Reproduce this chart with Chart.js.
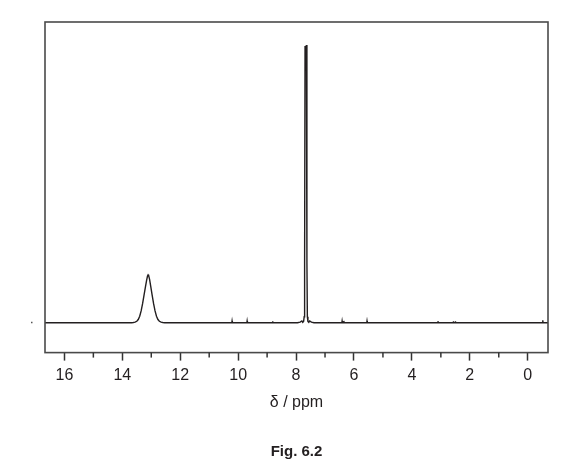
<!DOCTYPE html>
<html>
<head>
<meta charset="utf-8">
<script src="https://cdn.jsdelivr.net/npm/chart.js@4.4.0/dist/chart.umd.min.js"></script>
<style>
    html, body { margin: 0; padding: 0; background: #fff; }
    #wrap { width: 587px; height: 467px; }
</style>
</head>
<body>
<div id="wrap"><canvas id="nmr"></canvas></div>
<script>
// spectrum trace (ppm, relative intensity)
const ppm = [
    16.67,
    13.68, 13.62, 13.56, 13.50, 13.45, 13.40, 13.35, 13.30, 13.25, 13.20, 13.16, 13.13,
    13.11,
    13.09, 13.06, 13.02, 12.97, 12.92, 12.87, 12.82, 12.77, 12.72, 12.66, 12.60, 12.54,
    10.22, 10.21, 10.20,
    9.70, 9.69, 9.68,
    8.82, 8.81, 8.80,
    7.95, 7.86, 7.80, 7.77, 7.74, 7.72, 7.705, 7.69, 7.67, 7.645, 7.625, 7.61, 7.59, 7.56, 7.53, 7.47, 7.38,
    6.42, 6.41, 6.40, 6.36, 6.35, 6.34,
    5.56, 5.55, 5.54,
    3.11, 3.10, 3.09,
    2.58, 2.57, 2.56, 2.51, 2.50, 2.49,
    -0.51, -0.52, -0.53,
    -0.70
];
const intensity = [
    0,
    0, 0.2, 0.6, 1.5, 3.2, 6.5, 11.8, 19.0, 27.5, 36.0, 42.5, 46.5,
    47.7,
    46.8, 43.5, 36.5, 27.5, 19.0, 11.8, 6.5, 3.2, 1.5, 0.6, 0.2, 0,
    0, 1.8, 0,
    0, 1.8, 0,
    0, 1.5, 0,
    0, 0.6, 1.8, 0.3, 1.2, 6, 60, 275.5, 266, 276.3, 60, 6, 1.2, 0.3, 1.8, 0.6, 0,
    0, 1.8, 0, 0, 1.8, 0,
    0, 1.8, 0,
    0, 1.5, 0,
    0, 1.5, 0, 0, 1.5, 0,
    0, 2.5, 0,
    0
];
const majorTicks = [16, 14, 12, 10, 8, 6, 4, 2, 0];
const minorTicks = [15, 13, 11, 9, 7, 5, 3, 1];

const INK = '#231f20';

// frame + short minor ticks + the stray dot left of the frame
const framePlugin = {
    id: 'frame',
    afterDraw(chart) {
        const { ctx, chartArea: a, scales } = chart;
        ctx.save();
        ctx.strokeStyle = '#4a4a4a';
        ctx.lineWidth = 1.6;
        ctx.strokeRect(a.left, a.top, a.right - a.left, a.bottom - a.top);

        ctx.strokeStyle = '#333';
        ctx.lineWidth = 1.5;
        minorTicks.forEach(v => {
            const x = scales.x.getPixelForValue(v);
            ctx.beginPath();
            ctx.moveTo(x, a.bottom);
            ctx.lineTo(x, a.bottom + 5);
            ctx.stroke();
        });

        ctx.fillStyle = '#555';
        ctx.fillRect(a.left - 14, scales.y.getPixelForValue(0) - 1, 1.5, 1.5);
        ctx.restore();
    }
};

new Chart(document.getElementById('nmr'), {
    type: 'line',
    data: {
        datasets: [{
            data: ppm.map((p, i) => ({ x: p, y: intensity[i] })),
            borderColor: INK,
            borderWidth: 1.4,
            pointRadius: 0,
            tension: 0,
            fill: false
        }]
    },
    options: {
        responsive: true,
        maintainAspectRatio: false,
        animation: false,
        layout: { padding: { left: 45, right: 39, top: 22, bottom: 0 } },
        plugins: {
            legend: { display: false },
            tooltip: { enabled: false },
            title: {
                display: true,
                position: 'bottom',
                text: 'Fig. 6.2',
                color: INK,
                font: { family: 'Liberation Sans, Arial, sans-serif', size: 15, weight: 'bold' },
                padding: { top: 31, bottom: 6 }
            }
        },
        scales: {
            x: {
                type: 'linear',
                reverse: true,
                min: -0.70,
                max: 16.67,
                border: { display: false },
                grid: {
                    drawOnChartArea: false,
                    tickLength: 8,
                    tickWidth: 1.5,
                    tickColor: c => majorTicks.includes(c.tick.value) ? '#333' : 'rgba(0,0,0,0)'
                },
                ticks: {
                    stepSize: 2,
                    includeBounds: false,
                    autoSkip: false,
                    maxRotation: 0,
                    padding: 5,
                    color: INK,
                    font: { family: 'Liberation Sans, Arial, sans-serif', size: 16 },
                    callback: v => majorTicks.includes(v) ? String(v) : ''
                },
                title: {
                    display: true,
                    text: 'δ / ppm',
                    color: INK,
                    font: { family: 'Liberation Sans, Arial, sans-serif', size: 16 },
                    padding: { top: 3, bottom: 0 }
                }
            },
            y: {
                display: false,
                min: -29.7,
                max: 299.3
            }
        }
    },
    plugins: [framePlugin]
});
</script>
</body>
</html>
